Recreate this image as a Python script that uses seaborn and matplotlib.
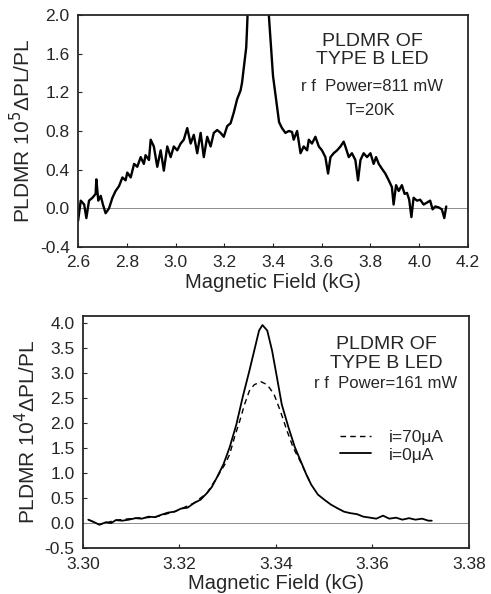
import matplotlib
matplotlib.use("Agg")
import matplotlib.pyplot as plt
import pandas as pd
import seaborn as sns

# ---- top panel: rf power 811 mW, T = 20 K
field_top = [2.600, 2.611, 2.625, 2.634, 2.645, 2.659, 2.672, 2.675, 2.683, 2.693,
             2.702, 2.713, 2.727, 2.741, 2.754, 2.768, 2.782, 2.795, 2.802, 2.816,
             2.830, 2.843, 2.857, 2.870, 2.877, 2.891, 2.898, 2.911, 2.925, 2.939,
             2.952, 2.966, 2.980, 2.993, 3.007, 3.021, 3.034, 3.048, 3.062, 3.075,
             3.089, 3.103, 3.116, 3.130, 3.144, 3.157, 3.171, 3.185, 3.198, 3.212,
             3.226, 3.239, 3.253, 3.267, 3.273, 3.280, 3.290, 3.293, 3.305, 3.340,
             3.372, 3.400, 3.425, 3.437, 3.451, 3.465, 3.478, 3.485, 3.499, 3.513,
             3.526, 3.540, 3.547, 3.560, 3.574, 3.588, 3.601, 3.615, 3.626, 3.636,
             3.649, 3.663, 3.677, 3.690, 3.697, 3.711, 3.724, 3.738, 3.749, 3.759,
             3.772, 3.786, 3.800, 3.813, 3.823, 3.834, 3.847, 3.861, 3.875, 3.888,
             3.895, 3.905, 3.916, 3.929, 3.940, 3.950, 3.959, 3.968, 3.977, 3.991,
             4.004, 4.018, 4.032, 4.045, 4.055, 4.066, 4.080, 4.093, 4.103, 4.111]
signal_top = [-0.13, 0.08, 0.04, -0.10, 0.08, 0.11, 0.15, 0.30, 0.08, 0.13,
              0.04, -0.05, 0.00, 0.11, 0.18, 0.23, 0.32, 0.29, 0.37, 0.32,
              0.46, 0.43, 0.53, 0.46, 0.55, 0.50, 0.71, 0.64, 0.43, 0.60,
              0.39, 0.64, 0.53, 0.64, 0.60, 0.67, 0.71, 0.83, 0.67, 0.76,
              0.57, 0.78, 0.53, 0.74, 0.64, 0.78, 0.81, 0.78, 0.74, 0.85,
              0.88, 0.99, 1.13, 1.22, 1.30, 1.45, 1.66, 1.83, 2.60, 4.00,
              2.40, 1.37, 0.89, 0.83, 0.78, 0.80, 0.79, 0.71, 0.80, 0.57,
              0.64, 0.60, 0.71, 0.67, 0.74, 0.64, 0.60, 0.53, 0.36, 0.53,
              0.57, 0.60, 0.64, 0.69, 0.64, 0.53, 0.57, 0.50, 0.29, 0.50,
              0.57, 0.53, 0.57, 0.46, 0.53, 0.46, 0.41, 0.36, 0.29, 0.22,
              0.04, 0.24, 0.18, 0.24, 0.15, 0.16, 0.09, -0.09, 0.11, 0.08,
              0.09, 0.04, 0.06, 0.08, -0.01, 0.02, 0.01, -0.01, -0.10, 0.02]

# ---- bottom panel: rf power 161 mW
field_0uA = [3.3011, 3.3021, 3.3034, 3.3048, 3.3058, 3.3068, 3.3082, 3.3095, 3.3109, 3.3122,
             3.3136, 3.3149, 3.3163, 3.3176, 3.3190, 3.3203, 3.3217, 3.3230, 3.3244, 3.3257,
             3.3267, 3.3277, 3.3291, 3.3304, 3.3318, 3.3331, 3.3345, 3.3355, 3.3365, 3.3372,
             3.3382, 3.3392, 3.3402, 3.3412, 3.3426, 3.3439, 3.3453, 3.3463, 3.3473, 3.3487,
             3.3500, 3.3514, 3.3527, 3.3541, 3.3554, 3.3568, 3.3581, 3.3595, 3.3608, 3.3622,
             3.3635, 3.3649, 3.3662, 3.3676, 3.3689, 3.3703, 3.3716, 3.3723]
signal_0uA = [0.07, 0.03, -0.03, 0.02, 0.00, 0.06, 0.05, 0.07, 0.10, 0.09,
              0.13, 0.12, 0.17, 0.21, 0.23, 0.29, 0.31, 0.40, 0.47, 0.60,
              0.72, 0.90, 1.17, 1.51, 1.97, 2.51, 3.04, 3.44, 3.84, 3.95,
              3.84, 3.44, 2.91, 2.37, 1.91, 1.52, 1.20, 0.97, 0.77, 0.57,
              0.47, 0.37, 0.30, 0.23, 0.20, 0.18, 0.13, 0.11, 0.09, 0.15,
              0.09, 0.11, 0.07, 0.10, 0.07, 0.09, 0.05, 0.05]

field_70uA = [3.3011, 3.3034, 3.3068, 3.3109, 3.3149, 3.3190, 3.3230, 3.3257, 3.3277, 3.3294,
              3.3304, 3.3314, 3.3325, 3.3335, 3.3345, 3.3355, 3.3369, 3.3382, 3.3396, 3.3409,
              3.3423, 3.3436, 3.3450, 3.3460, 3.3473]
signal_70uA = [0.07, -0.03, 0.06, 0.10, 0.12, 0.23, 0.40, 0.60, 0.90, 1.17,
               1.37, 1.71, 2.04, 2.37, 2.64, 2.76, 2.82, 2.76, 2.57, 2.24,
               1.84, 1.50, 1.24, 1.04, 0.77]

top_yticks = [-0.4, 0.0, 0.4, 0.8, 1.2, 1.6, 2.0]
top_xticks = [2.6, 2.8, 3.0, 3.2, 3.4, 3.6, 3.8, 4.0, 4.2]
bot_yticks = [-0.5, 0.0, 0.5, 1.0, 1.5, 2.0, 2.5, 3.0, 3.5, 4.0]
bot_xticks = [3.30, 3.32, 3.34, 3.36, 3.38]

sns.set_style("ticks")
plt.rcParams["font.family"] = ["Liberation Sans", "DejaVu Sans"]
plt.rcParams["xtick.direction"] = "in"
plt.rcParams["ytick.direction"] = "in"

fig = plt.figure(figsize=(4.91, 5.94), dpi=100)
ax1 = fig.add_axes([0.159, 0.584, 0.794, 0.391])
ax2 = fig.add_axes([0.169, 0.077, 0.786, 0.391])

# top
top = pd.DataFrame({"field": field_top, "signal": signal_top})
ax1.axhline(0, color="0.55", lw=0.7, zorder=1)
sns.lineplot(data=top, x="field", y="signal", ax=ax1, color="black",
             lw=1.7, estimator=None, sort=False)
ax1.set_xlim(2.6, 4.2)
ax1.set_ylim(-0.4, 2.0)
ax1.set_xticks(top_xticks)
ax1.set_yticks(top_yticks)
ax1.set_xticklabels([f"{v:.1f}" for v in top_xticks])
ax1.set_yticklabels([f"{v:.1f}" for v in top_yticks])
ax1.set_xlabel("Magnetic Field (kG)", fontsize=14.5, labelpad=2)
ax1.set_ylabel("PLDMR 10$^5$ΔPL/PL", fontsize=15, labelpad=4)
ax1.text(0.755, 0.845, "PLDMR OF\nTYPE B LED", transform=ax1.transAxes,
         ha="center", va="center", fontsize=14, linespacing=1.1)
ax1.text(0.755, 0.69, "r f  Power=811 mW", transform=ax1.transAxes,
         ha="center", va="center", fontsize=12)
ax1.text(0.75, 0.59, "T=20K", transform=ax1.transAxes,
         ha="center", va="center", fontsize=12)

# bottom
d70 = pd.DataFrame({"field": field_70uA, "signal": signal_70uA})
d0 = pd.DataFrame({"field": field_0uA, "signal": signal_0uA})
ax2.axhline(0, color="0.55", lw=0.7, zorder=1)
sns.lineplot(data=d70, x="field", y="signal", ax=ax2, color="black", lw=1.0,
             linestyle=(0, (4, 3)), estimator=None, label="i=70μA")
sns.lineplot(data=d0, x="field", y="signal", ax=ax2, color="black", lw=1.3,
             estimator=None, label="i=0μA")
ax2.set_xlim(3.30, 3.38)
ax2.set_ylim(-0.5, 4.13)
ax2.set_xticks(bot_xticks)
ax2.set_yticks(bot_yticks)
ax2.set_xticklabels([f"{v:.2f}" for v in bot_xticks])
ax2.set_yticklabels([f"{v:.1f}" for v in bot_yticks])
ax2.set_xlabel("Magnetic Field (kG)", fontsize=14.5, labelpad=2)
ax2.set_ylabel("PLDMR 10$^4$ΔPL/PL", fontsize=15, labelpad=4)
ax2.text(0.785, 0.836, "PLDMR OF\nTYPE B LED", transform=ax2.transAxes,
         ha="center", va="center", fontsize=14, linespacing=1.1)
ax2.text(0.785, 0.711, "r f  Power=161 mW", transform=ax2.transAxes,
         ha="center", va="center", fontsize=12)
ax2.legend(loc="center", bbox_to_anchor=(0.80, 0.44), frameon=False,
           fontsize=12.5, handlelength=1.8, handletextpad=1.0,
           labelspacing=0.15)

for ax in (ax1, ax2):
    for s in ax.spines.values():
        s.set_linewidth(1.3)
        s.set_visible(True)
    ax.tick_params(labelsize=12.5, length=3, width=0.8, pad=6)

plt.savefig("out.png", dpi=100)
